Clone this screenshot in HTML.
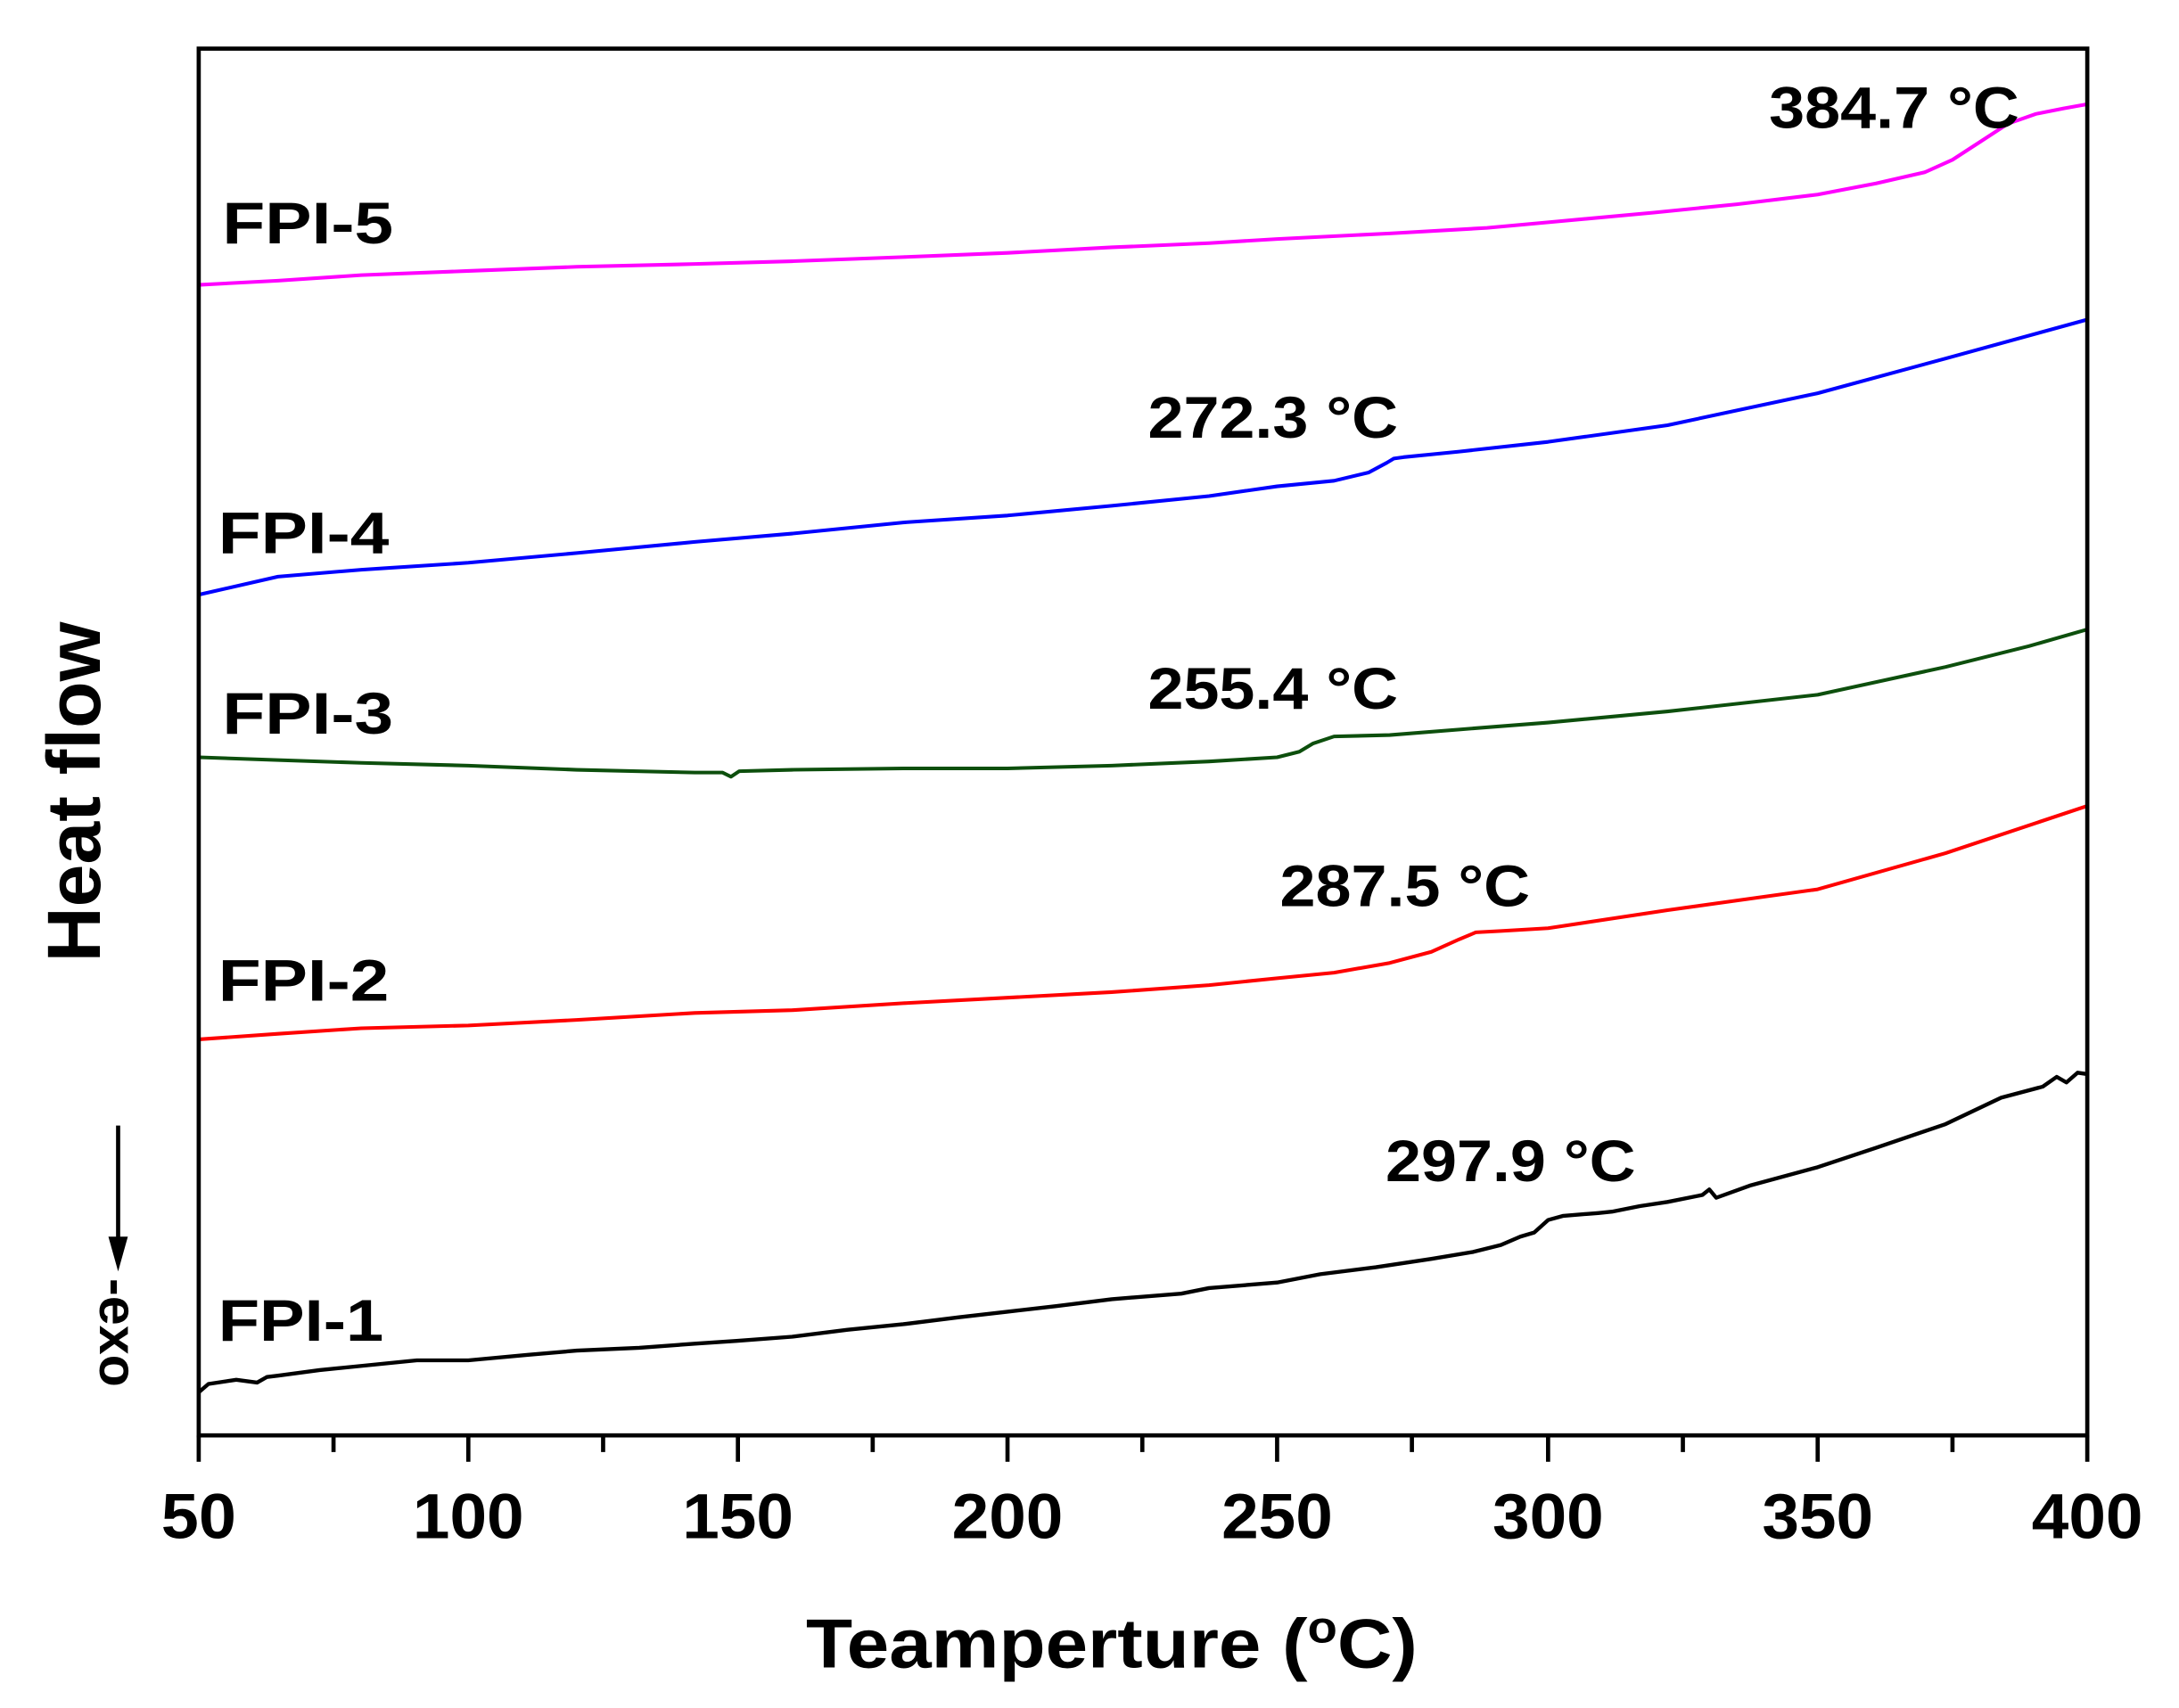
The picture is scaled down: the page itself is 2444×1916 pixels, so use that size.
<!DOCTYPE html>
<html><head><meta charset="utf-8"><style>
html,body{margin:0;padding:0;background:#fff;}
svg{display:block;}
text{font-family:"Liberation Sans",Arial,sans-serif;font-weight:bold;fill:#000;}
</style></head><body>
<svg width="2444" height="1916" viewBox="0 0 1568 1229.2" preserveAspectRatio="none" xmlns="http://www.w3.org/2000/svg">
<rect width="1568" height="1230" fill="#fff"/>
<g fill="none" stroke-width="2.6" stroke-linejoin="round">
<polyline stroke="#ff00ff" points="143,205 200,202 260,198 337,195 415,192 500,190 570,188 650,185 725,182 800,178 870,175 919,172 1000,168 1070,164 1114,160 1190,153 1250,147 1308,140 1350,132 1385,124 1405,115 1425,102 1445,89 1465,82 1485,78 1502,75"/>
<polyline stroke="#0000ff" points="143,428 200,415 260,410 337,405 415,398 500,390 570,384 650,376 725,371 800,364 870,357 919,350 960,346 985,340 998,333 1003,330 1010,329 1050,325 1114,318 1200,306 1308,283 1400,258 1502,230"/>
<polyline stroke="#0d4f0d" points="143,545 200,547 260,549 337,551 415,554 500,556 520,556 526,559 532,555 570,554 650,553 725,553 800,551 870,548 919,545 935,541 945,535 960,530 1000,529 1050,525 1114,520 1200,512 1308,500 1400,480 1460,465 1502,453"/>
<polyline stroke="#ff0000" points="143,748 200,744 260,740 337,738 415,734 500,729 570,727 650,722 725,718 800,714 870,709 919,704 960,700 1000,693 1030,685 1050,676 1062,671 1080,670 1114,668 1200,655 1308,640 1400,614 1502,580"/>
<polyline stroke="#000000" stroke-width="2.8" points="143,1002 150,996 170,993 185,995 192,991 200,990 230,986 260,983 300,979 337,979 380,975 415,972 460,970 500,967 530,965 570,962 610,957 650,953 690,948 725,944 760,940 800,935 850,931 870,927 919,923 950,917 990,912 1030,906 1060,901 1080,896 1094,890 1104,887 1114,878 1125,875 1150,873 1160,872 1180,868 1200,865 1225,860 1230,856 1235,862 1260,853 1308,840 1350,826 1400,809 1440,790 1470,782 1480,775 1487,779 1495,772 1502,773"/>
</g>
<rect x="143" y="35" width="1359" height="998" fill="none" stroke="#000" stroke-width="3"/>
<g stroke="#000" stroke-width="3">
<line x1="143" y1="1033" x2="143" y2="1052"/><line x1="337" y1="1033" x2="337" y2="1052"/><line x1="531" y1="1033" x2="531" y2="1052"/><line x1="725" y1="1033" x2="725" y2="1052"/><line x1="919" y1="1033" x2="919" y2="1052"/><line x1="1114" y1="1033" x2="1114" y2="1052"/><line x1="1308" y1="1033" x2="1308" y2="1052"/><line x1="1502" y1="1033" x2="1502" y2="1052"/>
<line x1="240" y1="1033" x2="240" y2="1045"/><line x1="434" y1="1033" x2="434" y2="1045"/><line x1="628" y1="1033" x2="628" y2="1045"/><line x1="822" y1="1033" x2="822" y2="1045"/><line x1="1016" y1="1033" x2="1016" y2="1045"/><line x1="1211" y1="1033" x2="1211" y2="1045"/><line x1="1405" y1="1033" x2="1405" y2="1045"/>
</g>
<g font-size="46" text-anchor="middle">
<text x="143" y="1107" textLength="54" lengthAdjust="spacingAndGlyphs">50</text>
<text x="337" y="1107" textLength="80" lengthAdjust="spacingAndGlyphs">100</text>
<text x="531" y="1107" textLength="80" lengthAdjust="spacingAndGlyphs">150</text>
<text x="725" y="1107" textLength="80" lengthAdjust="spacingAndGlyphs">200</text>
<text x="919" y="1107" textLength="80" lengthAdjust="spacingAndGlyphs">250</text>
<text x="1114" y="1107" textLength="80" lengthAdjust="spacingAndGlyphs">300</text>
<text x="1308" y="1107" textLength="80" lengthAdjust="spacingAndGlyphs">350</text>
<text x="1502" y="1107" textLength="80" lengthAdjust="spacingAndGlyphs">400</text>
</g>
<text x="800" y="1200" font-size="50" text-anchor="middle" textLength="440" lengthAdjust="spacingAndGlyphs">Teamperture (<tspan font-size="32" dy="-18">o</tspan><tspan dy="18">C)</tspan></text>
<text transform="translate(72,570) rotate(-90)" font-size="54" text-anchor="middle" textLength="245" lengthAdjust="spacingAndGlyphs">Heat flow</text>
<line x1="85" y1="810" x2="85" y2="895" stroke="#000" stroke-width="3"/>
<polygon points="78,890 92,890 85,915" fill="#000"/>
<text transform="translate(72,920) rotate(90)" font-size="38">-exo</text>
<g font-size="42">
<text x="160" y="175" textLength="123" lengthAdjust="spacingAndGlyphs">FPI-5</text>
<text x="157" y="398" textLength="123" lengthAdjust="spacingAndGlyphs">FPI-4</text>
<text x="160" y="528" textLength="123" lengthAdjust="spacingAndGlyphs">FPI-3</text>
<text x="157" y="720" textLength="123" lengthAdjust="spacingAndGlyphs">FPI-2</text>
<text x="157" y="965" textLength="119" lengthAdjust="spacingAndGlyphs">FPI-1</text>
</g>
<g font-size="42">
<text x="1273" y="92" textLength="180" lengthAdjust="spacingAndGlyphs">384.7 °C</text>
<text x="826" y="315" textLength="180" lengthAdjust="spacingAndGlyphs">272.3 °C</text>
<text x="826" y="510" textLength="180" lengthAdjust="spacingAndGlyphs">255.4 °C</text>
<text x="921" y="652" textLength="180" lengthAdjust="spacingAndGlyphs">287.5 °C</text>
<text x="997" y="850" textLength="180" lengthAdjust="spacingAndGlyphs">297.9 °C</text>
</g>
</svg>
</body></html>
